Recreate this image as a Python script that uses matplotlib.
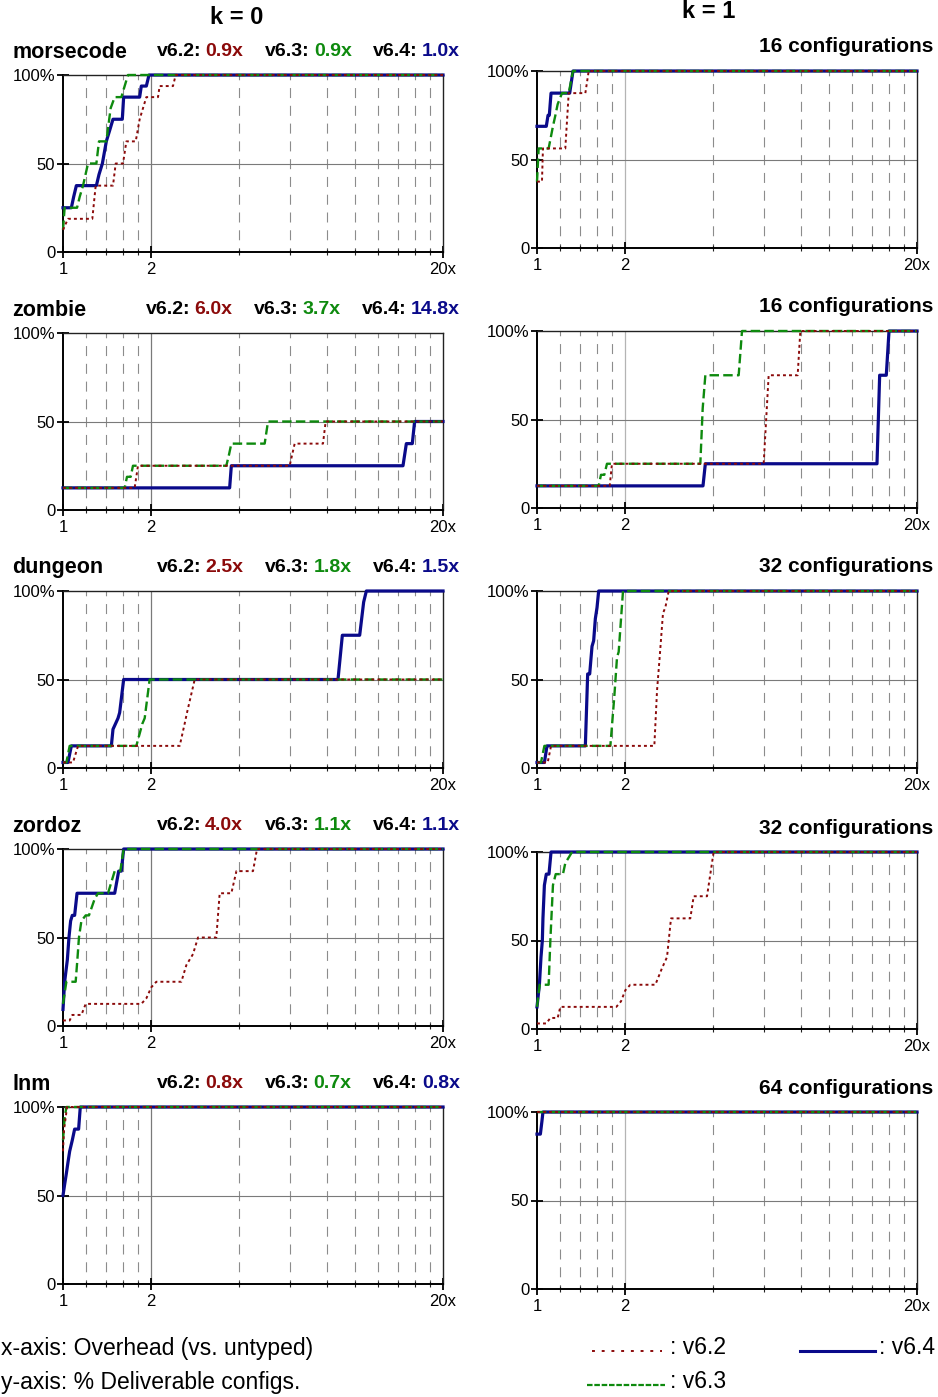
"""
Deliverable configurations vs overhead (k=0 / k=1) - 5 benchmarks
"""

import matplotlib
matplotlib.use('Agg')
import matplotlib.pyplot as plt
from matplotlib.lines import Line2D
from matplotlib.ticker import FixedLocator, FixedFormatter, NullFormatter

plt.rcParams['font.family'] = ['Liberation Sans', 'DejaVu Sans']

# ========================================
# Data
# ========================================
benchmarks = ['morsecode', 'zombie', 'dungeon', 'zordoz', 'lnm']
n_configs = [16, 16, 32, 32, 64]
ratio_v62 = [0.9, 6.0, 2.5, 4.0, 0.8]
ratio_v63 = [0.9, 3.7, 1.8, 1.1, 0.7]
ratio_v64 = [1.0, 14.8, 1.5, 1.1, 0.8]

x_major = [1, 2, 20]
x_major_labels = ['1', '2', '20x']
x_minor = [1.2, 1.4, 1.6, 1.8, 4, 6, 8, 10, 12, 14, 16, 18]
y_ticks = [0, 50, 100]
y_labels = ['0', '50', '100%']

# morsecode
m0_v62_x = [1, 1.040, 1.260, 1.294, 1.483, 1.515, 1.605, 1.648, 1.774, 1.830, 1.929, 2.115, 2.142, 2.380, 2.431, 20]
m0_v62_y = [12.5, 18.75, 18.75, 37.5, 37.5, 50, 50, 62.5, 62.5, 75, 87.5, 87.5, 93.75, 93.75, 100, 100]
m0_v63_x = [1, 1.013, 1.117, 1.141, 1.171, 1.218, 1.301, 1.328, 1.407, 1.456, 1.503, 1.584, 1.626, 1.669, 20]
m0_v63_y = [12.5, 25, 25, 31.25, 37.5, 50, 50, 62.5, 62.5, 81.25, 87.5, 87.5, 93.75, 100, 100]
m0_v64_x = [1, 1.068, 1.088, 1.111, 1.301, 1.328, 1.364, 1.407, 1.445, 1.483, 1.596, 1.613, 1.830, 1.854, 1.929, 1.970, 20]
m0_v64_y = [25, 25, 31.25, 37.5, 37.5, 43.75, 50, 62.5, 68.75, 75, 75, 87.5, 87.5, 93.75, 93.75, 100, 100]

m1_v62_x = [1, 1.040, 1.048, 1.250, 1.284, 1.464, 1.503, 20]
m1_v62_y = [37.5, 37.5, 56.25, 56.25, 87.5, 87.5, 100, 100]
m1_v63_x = [1, 1.013, 1.096, 1.134, 1.156, 1.177, 1.218, 1.284, 1.328, 20]
m1_v63_y = [37.5, 56.25, 56.25, 68.75, 75, 81.25, 87.5, 87.5, 100, 100]
m1_v64_x = [1, 1.076, 1.091, 1.102, 1.117, 1.294, 1.328, 20]
m1_v64_y = [68.75, 68.75, 75, 75, 87.5, 87.5, 100, 100]

# zombie
z0_v62_x = [1, 1.759, 1.806, 5.971, 6.211, 7.765, 7.930, 20]
z0_v62_y = [12.5, 12.5, 25, 25, 37.5, 37.5, 50, 50]
z0_v63_x = [1, 1.626, 1.656, 1.705, 1.736, 3.624, 3.701, 3.770, 4.903, 5.034, 20]
z0_v63_y = [12.5, 12.5, 18.75, 18.75, 25, 25, 31.25, 37.5, 37.5, 50, 50]
z0_v64_x = [1, 3.72, 3.77, 14.59, 14.98, 15.70, 15.99, 20]
z0_v64_y = [12.5, 12.5, 25, 25, 37.5, 37.5, 50, 50]

z1_v62_x = [1, 1.774, 1.806, 5.971, 6.211, 7.806, 7.972, 20]
z1_v62_y = [12.5, 12.5, 25, 25, 75, 75, 100, 100]
z1_v63_x = [1, 1.626, 1.656, 1.700, 1.736, 3.624, 3.692, 3.770, 4.903, 5.034, 20]
z1_v63_y = [12.5, 12.5, 18.75, 18.75, 25, 25, 56.25, 75, 75, 100, 100]
z1_v64_x = [1, 3.701, 3.770, 14.59, 14.90, 15.70, 16.04, 20]
z1_v64_y = [12.5, 12.5, 25, 25, 75, 75, 100, 100]

# dungeon
d0_v62_x = [1, 1.082, 1.126, 2.509, 2.609, 2.658, 2.824, 20]
d0_v62_y = [3.125, 3.125, 12.5, 12.5, 25, 31.25, 50, 50]
d0_v63_x = [1, 1.027, 1.054, 1.783, 1.869, 1.904, 1.980, 20]
d0_v63_y = [3.125, 3.125, 12.5, 12.5, 25, 28.125, 50, 50]
d0_v64_x = [1, 1.040, 1.068, 1.464, 1.483, 1.543, 1.563, 1.613, 8.740, 9.045, 10.37, 10.70, 10.93, 20]
d0_v64_y = [3.125, 3.125, 12.5, 12.5, 21.875, 28.125, 31.25, 50, 50, 75, 75, 93.75, 100, 100]

d1_v62_x = [1, 1.088, 1.117, 2.522, 2.576, 2.630, 2.700, 2.750, 2.824, 20]
d1_v62_y = [3.125, 3.125, 12.5, 12.5, 43.75, 62.5, 87.5, 90.625, 100, 100]
d1_v63_x = [1, 1.032, 1.060, 1.783, 1.840, 1.879, 1.904, 1.970, 20]
d1_v63_y = [3.125, 3.125, 12.5, 12.5, 40.625, 62.5, 65.625, 100, 100]
d1_v64_x = [1, 1.060, 1.082, 1.464, 1.491, 1.515, 1.543, 1.563, 1.584, 1.605, 1.626, 20]
d1_v64_y = [3.125, 3.125, 12.5, 12.5, 53.125, 53.125, 68.75, 71.875, 84.375, 90.625, 100, 100]

# zordoz
o0_v62_x = [1, 1.054, 1.076, 1.156, 1.196, 1.854, 1.929, 2.006, 2.087, 2.542, 2.644, 2.787, 2.899, 3.349, 3.439, 3.770, 3.924, 4.472, 4.616, 20]
o0_v62_y = [3.125, 3.125, 6.25, 6.25, 12.5, 12.5, 15.625, 21.875, 25, 25, 34.375, 40.625, 50, 50, 75, 75, 87.5, 87.5, 100, 100]
o0_v63_x = [1, 1.027, 1.105, 1.120, 1.134, 1.156, 1.196, 1.227, 1.284, 1.318, 1.426, 1.503, 1.571, 1.613, 20]
o0_v63_y = [12.5, 25, 25, 37.5, 50, 59.375, 62.5, 62.5, 71.875, 75, 75, 87.5, 87.5, 100, 100]
o0_v64_x = [1, 1.013, 1.035, 1.048, 1.062, 1.076, 1.096, 1.117, 1.503, 1.551, 1.584, 1.613, 20]
o0_v64_y = [9.375, 25, 37.5, 50, 59.375, 62.5, 62.5, 75, 75, 87.5, 87.5, 100, 100]

o1_v62_x = [1, 1.076, 1.111, 1.177, 1.202, 1.869, 1.939, 2.006, 2.087, 2.542, 2.679, 2.787, 2.876, 3.349, 3.439, 3.820, 4.025, 20]
o1_v62_y = [3.125, 3.125, 6.25, 6.25, 12.5, 12.5, 15.625, 21.875, 25, 25, 34.375, 40.625, 62.5, 62.5, 75, 75, 100, 100]
o1_v63_x = [1, 1.021, 1.096, 1.111, 1.134, 1.159, 1.227, 1.250, 1.284, 1.318, 20]
o1_v63_y = [12.5, 25, 25, 50, 81.25, 87.5, 87.5, 93.75, 96.875, 100, 100]
o1_v64_x = [1, 1.019, 1.032, 1.043, 1.048, 1.060, 1.076, 1.099, 1.117, 20]
o1_v64_y = [12.5, 25, 40.625, 50, 62.5, 81.25, 87.5, 87.5, 100, 100]

# lnm
l0_v62_x = [1, 1.008, 1.021, 1.032, 20]
l0_v62_y = [75, 87.5, 93.75, 100, 100]
l0_v63_x = [1, 1.013, 1.027, 20]
l0_v63_y = [81.25, 93.75, 100, 100]
l0_v64_x = [1, 1.013, 1.027, 1.040, 1.054, 1.076, 1.096, 1.131, 1.146, 20]
l0_v64_y = [50, 56.25, 62.5, 68.75, 75, 81.25, 87.5, 87.5, 100, 100]

l1_v62_x = [1, 20]
l1_v62_y = [100, 100]
l1_v63_x = [1, 20]
l1_v63_y = [100, 100]
l1_v64_x = [1, 1.027, 1.040, 1.048, 20]
l1_v64_y = [87.5, 87.5, 95, 100, 100]

k0_series = [
    [(m0_v62_x, m0_v62_y), (m0_v63_x, m0_v63_y), (m0_v64_x, m0_v64_y)],
    [(z0_v62_x, z0_v62_y), (z0_v63_x, z0_v63_y), (z0_v64_x, z0_v64_y)],
    [(d0_v62_x, d0_v62_y), (d0_v63_x, d0_v63_y), (d0_v64_x, d0_v64_y)],
    [(o0_v62_x, o0_v62_y), (o0_v63_x, o0_v63_y), (o0_v64_x, o0_v64_y)],
    [(l0_v62_x, l0_v62_y), (l0_v63_x, l0_v63_y), (l0_v64_x, l0_v64_y)],
]
k1_series = [
    [(m1_v62_x, m1_v62_y), (m1_v63_x, m1_v63_y), (m1_v64_x, m1_v64_y)],
    [(z1_v62_x, z1_v62_y), (z1_v63_x, z1_v63_y), (z1_v64_x, z1_v64_y)],
    [(d1_v62_x, d1_v62_y), (d1_v63_x, d1_v63_y), (d1_v64_x, d1_v64_y)],
    [(o1_v62_x, o1_v62_y), (o1_v63_x, o1_v63_y), (o1_v64_x, o1_v64_y)],
    [(l1_v62_x, l1_v62_y), (l1_v63_x, l1_v63_y), (l1_v64_x, l1_v64_y)],
]

# ========================================
# Styles / layout
# ========================================
RED = '#8b0a0a'
GREEN = '#0e8a0e'
BLUE = '#0a0a8a'

W, H = 938, 1397
fig = plt.figure(figsize=(W / 100, H / 100), dpi=100)


def fx(px):
    return px / W


def fy(py):
    return 1 - py / H


left_tops = [75, 333, 591, 849, 1107]
right_tops = [71, 331, 591, 852, 1112]
AX_W, AX_H = 380, 177


def setup_axes(ax, grid2_color):
    ax.set_xscale('log')
    ax.set_xlim(1, 20)
    ax.set_ylim(0, 100)
    for xv in x_minor:
        ax.axvline(xv, color='#8c8c8c', lw=0.8, ls=(5, (9, 7)), zorder=1)
    ax.axvline(2, color=grid2_color, lw=0.9, zorder=1)
    ax.axhline(50, color='#7a7a7a', lw=0.8, zorder=1)
    ax.xaxis.set_major_locator(FixedLocator(x_major))
    ax.xaxis.set_major_formatter(FixedFormatter(x_major_labels))
    ax.xaxis.set_minor_locator(FixedLocator(x_minor))
    ax.xaxis.set_minor_formatter(NullFormatter())
    ax.set_yticks(y_ticks)
    ax.set_yticklabels(y_labels)
    ax.tick_params(axis='both', which='major', direction='inout', length=8, width=1.3,
                   labelsize=12, color='black')
    ax.tick_params(axis='x', which='major', pad=3)
    ax.tick_params(axis='y', which='major', pad=1.5)
    ax.tick_params(axis='x', which='minor', direction='inout', length=4, width=0.8, color='#222222')
    for side in ['top', 'right']:
        ax.spines[side].set_linewidth(1.0)
        ax.spines[side].set_color('#222222')
    for side in ['left', 'bottom']:
        ax.spines[side].set_linewidth(1.4)
        ax.spines[side].set_color('black')


def draw_curves(ax, series):
    (x62, y62), (x63, y63), (x64, y64) = series
    ax.plot(x64, y64, color=BLUE, lw=2.3, zorder=3, clip_on=False)
    ax.plot(x63, y63, color=GREEN, lw=1.7, ls=(0, (4, 1.8)), zorder=4, clip_on=False)
    ax.plot(x62, y62, color=RED, lw=1.4, ls=(0, (1.5, 1.6)), zorder=5, clip_on=False)


# ========================================
# Panels
# ========================================
for i in range(len(benchmarks)):
    # k = 0
    top = left_tops[i]
    ax = fig.add_axes([fx(63), fy(top + AX_H), fx(AX_W), AX_H / H])
    setup_axes(ax, '#7a7a7a')
    draw_curves(ax, k0_series[i])

    ty = fy(top - 23)
    fig.text(fx(12), ty, benchmarks[i], fontsize=15.5, fontweight='bold', ha='left', va='center')

    # ratios, laid out right to left
    prev = fig.text(fx(460), ty, f'{ratio_v64[i]:.1f}x', color=BLUE, fontsize=14,
                    fontweight='bold', ha='right', va='center')
    pieces = [('v6.4:', 'black', 3), (f'{ratio_v63[i]:.1f}x', GREEN, 15.5), ('v6.3:', 'black', 3),
              (f'{ratio_v62[i]:.1f}x', RED, 15.5), ('v6.2:', 'black', 3)]
    for s, c, gap in pieces:
        prev = ax.annotate(s, xy=(0, 0.5), xycoords=prev, xytext=(-gap, 0),
                           textcoords='offset points', ha='right', va='center',
                           color=c, fontsize=14, fontweight='bold', annotation_clip=False)

    # k = 1
    top = right_tops[i]
    ax = fig.add_axes([fx(537), fy(top + AX_H), fx(AX_W), AX_H / H])
    setup_axes(ax, '#b4b4b4')
    draw_curves(ax, k1_series[i])
    fig.text(fx(933), fy(top - 24), f'{n_configs[i]} configurations', fontsize=15,
             fontweight='bold', ha='right', va='center')

fig.text(fx(237), fy(18), 'k = 0', fontsize=17, fontweight='bold', ha='center', va='center')
fig.text(fx(709), fy(12), 'k = 1', fontsize=17, fontweight='bold', ha='center', va='center')

# ========================================
# Legend / axis notes
# ========================================
fig.text(fx(1), fy(1348), 'x-axis: Overhead (vs. untyped)', fontsize=16.5, ha='left', va='center')
fig.text(fx(1), fy(1383), 'y-axis: % Deliverable configs.', fontsize=16.5, ha='left', va='center')

fig.add_artist(Line2D([fx(592), fx(662)], [fy(1351), fy(1351)], color=RED, lw=1.4,
                      ls=(0, (1.5, 3.5))))
fig.add_artist(Line2D([fx(587), fx(665)], [fy(1385), fy(1385)], color=GREEN, lw=1.6,
                      ls=(0, (2.5, 0.8))))
fig.add_artist(Line2D([fx(800), fx(875)], [fy(1351), fy(1351)], color=BLUE, lw=2.2))
fig.text(fx(670), fy(1348), ': v6.2', fontsize=16.5, ha='left', va='center')
fig.text(fx(670), fy(1382), ': v6.3', fontsize=16.5, ha='left', va='center')
fig.text(fx(879), fy(1348), ': v6.4', fontsize=16.5, ha='left', va='center')

plt.savefig('out.png', dpi=100)
plt.close()
print("saved out.png")
